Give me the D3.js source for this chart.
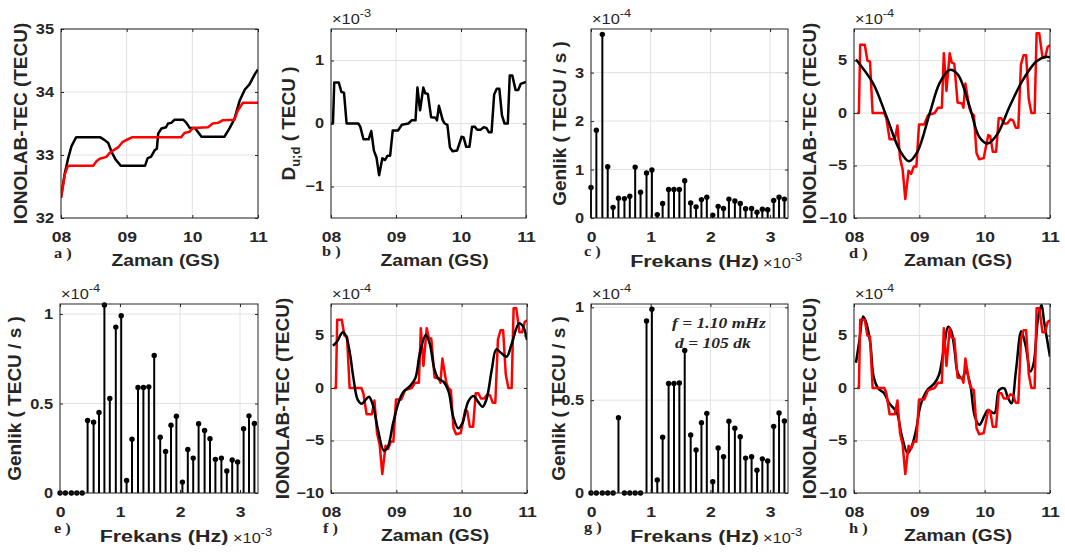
<!DOCTYPE html>
<html>
<head>
<meta charset="utf-8">
<script src="https://cdn.jsdelivr.net/npm/d3@7"></script>
<style>
  body { margin: 0; background: #fff; }
  text { font-family: "Liberation Sans", Arial, sans-serif; fill: #262626; }
</style>
</head>
<body>
<script>
// ---------- data ----------
// time axis: hours after 08:00 (GS)
const hourTicks = [0, 1, 2, 3]
const hourLabels = ['08', '09', '10', '11']
const freqTicks = [0, 1, 2, 3]

// a) IONOLAB-TEC, black and red curves (TECU)
const tBlackA = [0, 0.056, 0.107, 0.16, 0.23, 0.60, 0.66, 0.72, 0.77, 0.83, 0.91, 1.28, 1.32, 1.37, 1.43, 1.46, 1.48, 1.53, 1.60, 1.63, 1.68, 1.73, 1.86, 1.91, 1.96, 2.04, 2.14, 2.49, 2.57, 2.64, 2.72, 2.80, 2.87, 2.95, 3.0]
const vBlackA = [32.32, 32.7, 32.94, 33.14, 33.28, 33.28, 33.24, 33.19, 33.05, 32.93, 32.83, 32.83, 32.95, 32.97, 33.08, 33.1, 33.34, 33.42, 33.44, 33.5, 33.51, 33.56, 33.56, 33.51, 33.43, 33.43, 33.29, 33.29, 33.43, 33.57, 33.86, 34.04, 34.12, 34.28, 34.36]
const tRedA = [0, 0.06, 0.107, 0.49, 0.54, 0.59, 0.69, 0.74, 0.79, 0.87, 0.94, 1.02, 1.08, 1.83, 1.88, 1.96, 2.01, 2.24, 2.31, 2.39, 2.46, 2.64, 2.69, 2.77, 3.0]
const vRedA = [32.32, 32.7, 32.83, 32.83, 32.9, 32.94, 32.97, 33.03, 33.07, 33.12, 33.21, 33.25, 33.28, 33.28, 33.35, 33.37, 33.43, 33.44, 33.5, 33.51, 33.55, 33.56, 33.7, 33.83, 33.83]

// b) D u;d series (x 1e-4 TECU); same series redrawn in d, f, h one sample later
const tDiff = [0, 0.03, 0.05, 0.12, 0.16, 0.20, 0.24, 0.42, 0.45, 0.50, 0.58, 0.62, 0.66, 0.70, 0.74, 0.79, 0.83, 0.87, 0.91, 0.95, 1.03, 1.09, 1.19, 1.24, 1.30, 1.33, 1.37, 1.42, 1.45, 1.49, 1.54, 1.61, 1.63, 1.66, 1.72, 1.75, 1.79, 1.83, 1.87, 1.94, 2.01, 2.04, 2.08, 2.13, 2.17, 2.21, 2.25, 2.30, 2.35, 2.39, 2.43, 2.47, 2.51, 2.55, 2.59, 2.63, 2.67, 2.72, 2.75, 2.79, 2.84, 2.88, 2.92, 3.0]
const tDiffLate = [0.045, 0.075, 0.095, 0.165, 0.205, 0.245, 0.285, 0.465, 0.495, 0.545, 0.625, 0.665, 0.705, 0.745, 0.785, 0.835, 0.875, 0.915, 0.955, 0.995, 1.075, 1.135, 1.235, 1.285, 1.345, 1.375, 1.415, 1.465, 1.495, 1.535, 1.585, 1.655, 1.675, 1.705, 1.765, 1.795, 1.835, 1.875, 1.915, 1.985, 2.055, 2.085, 2.125, 2.175, 2.215, 2.255, 2.295, 2.345, 2.395, 2.435, 2.475, 2.515, 2.555, 2.595, 2.635, 2.675, 2.715, 2.765, 2.795, 2.835, 2.885, 2.925, 2.965, 3.045]
const vDiff = [0, 0, 6.5, 6.5, 5.0, 4.9, 0, 0, -0.5, -2.5, -2.5, -1.2, -4.3, -5.4, -8.2, -5.5, -5.8, -5.1, -5.1, -1.1, -1.1, -0.2, 0, 0.5, 0.5, 5.7, 2.1, 5.7, 4.8, 4.7, 1.0, 0.9, 0.5, 2.8, 0.5, 0, -0.2, -3.8, -4.4, -4.3, -2.1, -2.2, -3.7, -3.7, -0.5, -0.5, -1.0, -1.0, -0.6, -0.7, -1.4, -1.4, 4.6, 5.5, 5.5, 1.3, 0, 0, 7.6, 7.6, 5.3, 5.3, 6.3, 6.6]

// spectra: frequency (x 1e-3 Hz), amplitude (x 1e-4 TECU/s)
const freqs = [0, 0.09, 0.19, 0.28, 0.37, 0.46, 0.56, 0.65, 0.74, 0.83, 0.93, 1.02, 1.11, 1.20, 1.30, 1.39, 1.48, 1.57, 1.67, 1.76, 1.85, 1.94, 2.04, 2.13, 2.22, 2.31, 2.41, 2.50, 2.59, 2.69, 2.78, 2.87, 2.96, 3.06, 3.15, 3.24]
const ampC = [0.63, 1.81, 3.79, 1.06, 0.22, 0.41, 0.40, 0.45, 1.05, 0.53, 0.93, 0.99, 0.07, 0.30, 0.59, 0.59, 0.59, 0.77, 0.31, 0.23, 0.38, 0.43, 0.06, 0.24, 0.195, 0.39, 0.35, 0.30, 0.19, 0.195, 0.12, 0.18, 0.17, 0.36, 0.43, 0.39]
const ampE = [0, 0, 0, 0, 0, 0.405, 0.396, 0.45, 1.05, 0.528, 0.927, 0.99, 0.07, 0.30, 0.59, 0.59, 0.593, 0.768, 0.312, 0.232, 0.379, 0.429, 0.061, 0.243, 0.195, 0.387, 0.349, 0.303, 0.188, 0.195, 0.123, 0.184, 0.173, 0.359, 0.431, 0.388]
const ampG = [0, 0, 0, 0, 0, 0.405, 0, 0, 0, 0, 0.927, 0.99, 0.07, 0.30, 0.59, 0.59, 0.593, 0.768, 0.312, 0.232, 0.379, 0.429, 0.061, 0.243, 0.195, 0.387, 0.349, 0.303, 0.188, 0.195, 0.123, 0.184, 0.173, 0.359, 0.431, 0.388]

// d) fitted wave (x 1e-4)
const tWaveD = [0.03, 0.29, 0.49, 0.70, 0.84, 0.97, 1.16, 1.31, 1.46, 1.59, 1.77, 1.92, 2.05, 2.20, 2.38, 2.59, 2.79, 2.94, 3.0]
const vWaveD = [5.1, 2.85, -0.2, -3.55, -4.6, -3.7, 0, 2.85, 4.1, 3.65, 0.6, -2.3, -2.9, -1.95, 0.6, 3.2, 4.9, 5.35, 5.3]
// f) reconstruction
const tWaveF = [0.03, 0.09, 0.18, 0.23, 0.29, 0.34, 0.41, 0.47, 0.52, 0.58, 0.64, 0.72, 0.81, 0.87, 0.95, 1.03, 1.10, 1.21, 1.29, 1.36, 1.45, 1.51, 1.58, 1.64, 1.72, 1.80, 1.87, 1.95, 2.01, 2.10, 2.18, 2.25, 2.32, 2.38, 2.46, 2.53, 2.61, 2.69, 2.76, 2.88, 2.94, 3.0]
const vWaveF = [4.03, 4.4, 5.3, 4.95, 3.3, 1.08, -1.14, -1.5, -1.2, -0.83, -1.6, -4.0, -5.97, -5.6, -3.37, -1.46, -0.44, 0.2, 0.92, 3.3, 5.05, 4.25, 1.87, 0.92, 0.6, -0.35, -2.73, -3.84, -3.37, -1.3, -0.76, -1.3, -1.78, -1.08, 1.71, 3.68, 3.3, 2.98, 4.1, 6.16, 5.84, 4.57]
// h) reconstruction
const tWaveH = [0.03, 0.08, 0.14, 0.19, 0.25, 0.30, 0.37, 0.46, 0.54, 0.61, 0.66, 0.73, 0.82, 0.88, 0.95, 1.02, 1.12, 1.23, 1.30, 1.38, 1.44, 1.49, 1.54, 1.59, 1.66, 1.71, 1.78, 1.85, 1.92, 1.99, 2.05, 2.15, 2.22, 2.30, 2.35, 2.41, 2.48, 2.56, 2.63, 2.70, 2.75, 2.82, 2.87, 2.91, 3.0]
const vWaveH = [2.4, 4.4, 6.8, 6.16, 4.25, 1.08, -0.03, -0.5, -1.46, -1.94, -2.4, -4.5, -6.2, -5.6, -4.0, -1.6, -0.2, 0.44, 1.24, 3.94, 5.84, 5.4, 3.6, 1.4, 0.92, 1.7, 0.29, -2.73, -3.5, -2.73, -2.1, -2.4, -0.2, -0.03, -0.83, -1.46, 1.71, 5.4, 3.94, 1.56, 2.35, 6.8, 7.9, 6.3, 2.98]

// ---------- drawing ----------
const INK = '#262626'
const SX = 1.17 // the source figure is stretched sideways
const svg = d3.select('body').append('svg').attr('width', 1065).attr('height', 554)

function txt(sel, x, y, str, size, opts = {}) {
  return sel.append('text')
    .attr('transform', `translate(${x},${y}) scale(${opts.sx || SX},1)`)
    .attr('text-anchor', opts.anchor || 'start')
    .style('font-size', size + 'px')
    .style('font-weight', opts.weight || 'bold')
    .style('font-family', opts.family || null)
    .style('font-style', opts.style || null)
    .text(str)
}

function expo(sel, x, y, power) {
  const t = txt(sel, x, y, '×10', 14, { weight: 'normal' })
  t.append('tspan').attr('dy', -7).style('font-size', '11px').text(power)
}

function drawLine(plot, x, y, ts, vs, color, scale = 1) {
  plot.append('path')
    .datum(d3.zip(ts, vs))
    .attr('fill', 'none')
    .attr('stroke', color)
    .attr('stroke-width', 2.5)
    .attr('stroke-linejoin', 'round')
    .attr('d', d3.line().x(d => x(d[0])).y(d => y(d[1] * scale)))
}

function drawSmooth(plot, x, y, ts, vs) {
  plot.append('path')
    .datum(d3.zip(ts, vs))
    .attr('fill', 'none')
    .attr('stroke', '#000')
    .attr('stroke-width', 2.5)
    .attr('d', d3.line().curve(d3.curveCatmullRom).x(d => x(d[0])).y(d => y(d[1])))
}

function drawStems(g, x, y, amps) {
  const pts = d3.zip(freqs, amps)
  g.append('g').selectAll('line').data(pts).join('line')
    .attr('x1', d => x(d[0])).attr('x2', d => x(d[0]))
    .attr('y1', y(0)).attr('y2', d => y(d[1]))
    .attr('stroke', '#000').attr('stroke-width', 2)
  g.append('g').selectAll('circle').data(pts).join('circle')
    .attr('cx', d => x(d[0])).attr('cy', d => y(d[1]))
    .attr('r', 2.7).attr('fill', '#000')
}

function panel(p) {
  const top = p.row === 0 ? 29 : 304
  const bottom = p.row === 0 ? 218 : 493
  const isTime = p.kind === 'time'
  const xTicks = isTime ? hourTicks : freqTicks
  const x = d3.scaleLinear().domain(isTime ? [0, 3] : [0, 3.3]).range([p.left, p.right])
  const y = d3.scaleLinear().domain(p.yDomain).range([bottom, top])
  const g = svg.append('g')

  // grid
  g.append('g').selectAll('line').data(xTicks).join('line')
    .attr('x1', d => x(d)).attr('x2', d => x(d)).attr('y1', top).attr('y2', bottom)
    .attr('stroke', '#e2e2e2')
  g.append('g').selectAll('line').data(p.yTicks).join('line')
    .attr('y1', d => y(d)).attr('y2', d => y(d)).attr('x1', p.left).attr('x2', p.right)
    .attr('stroke', '#e2e2e2')

  g.append('clipPath').attr('id', 'clip-' + p.id).append('rect')
    .attr('x', p.left).attr('y', top).attr('width', p.right - p.left).attr('height', bottom - top)
  const plot = g.append('g').attr('clip-path', `url(#clip-${p.id})`)
  p.draw(plot, x, y, g)

  // axes, ticks pointing inward on all four sides
  const fmtX = isTime ? (d, i) => hourLabels[i] : d3.format('d')
  const axes = [
    [d3.axisBottom(x).tickValues(xTicks).tickFormat(fmtX).tickPadding(13), `translate(0,${bottom})`, 15],
    [d3.axisTop(x).tickValues(xTicks).tickFormat(''), `translate(0,${top})`, 0],
    [d3.axisLeft(y).tickValues(p.yTicks).tickFormat(p.yFormat || d3.format('d')).tickPadding(6), `translate(${p.left},0)`, 14],
    [d3.axisRight(y).tickValues(p.yTicks).tickFormat(''), `translate(${p.right},0)`, 0]
  ]
  axes.forEach(([ax, tr, fs]) => {
    const a = g.append('g').attr('transform', tr)
      .call(ax.tickSizeInner(-3).tickSizeOuter(0))
    a.select('.domain').remove()
    a.selectAll('line').attr('stroke', INK)
    a.selectAll('text')
      .attr('fill', INK)
      .attr('transform', `scale(${SX},1)`)
      .style('font-size', fs + 'px')
      .style('font-weight', 'bold')
      .style('font-family', '"Liberation Sans", Arial, sans-serif')
  })
  g.append('rect')
    .attr('x', p.left).attr('y', top)
    .attr('width', p.right - p.left).attr('height', bottom - top)
    .attr('fill', 'none').attr('stroke', INK)

  // x title
  const cx = (p.left + p.right) / 2
  if (isTime) {
    txt(g, cx + 6, bottom + 48, 'Zaman (GS)', 16.5, { anchor: 'middle' })
  } else {
    txt(g, cx + 5, bottom + 49, 'Frekans (Hz)', 16.5, { anchor: 'middle', sx: 1.3 })
    expo(g, p.right - 25, bottom + 50, '-3')
  }
  if (p.expTop) expo(g, p.left + 1, top - 5, p.expTop)

  // y title
  const yl = g.append('text')
    .attr('transform', `translate(${p.left + p.yLabelDx},${(top + bottom) / 2}) rotate(-90)`)
    .attr('text-anchor', 'middle')
    .attr('dy', '0.36em')
    .style('font-size', '19px')
    .style('font-weight', 'bold')
  if (p.yLabel === 'D') {
    yl.append('tspan').text('D')
    yl.append('tspan').attr('dy', 5).style('font-size', '13px').text('u;d')
    yl.append('tspan').attr('dy', -5).text(' ( TECU )')
  } else {
    yl.text(p.yLabel)
  }

  // panel tag, set just under the first x tick label
  txt(g, p.tag[1], bottom + p.tag[2], p.tag[0], 14,
    { family: '"Liberation Serif", "Times New Roman", serif' })
}

const tecLabel = 'IONOLAB-TEC (TECU)'
const ampLabel = 'Genlik ( TECU / s )'
const waveTicks = [-10, -5, 0, 5]

panel({
  id: 'a', row: 0, kind: 'time', left: 61, right: 258,
  yDomain: [32, 35], yTicks: [32, 33, 34, 35], yLabel: tecLabel, yLabelDx: -41,
  tag: ['a )', 54, 40],
  draw: (plot, x, y) => {
    drawLine(plot, x, y, tBlackA, vBlackA, '#000')
    drawLine(plot, x, y, tRedA, vRedA, '#ff0000')
  }
})

panel({
  id: 'b', row: 0, kind: 'time', left: 331, right: 526,
  yDomain: [-1.5, 1.5], yTicks: [-1, 0, 1], yLabel: 'D', yLabelDx: -43, expTop: '-3',
  tag: ['b )', 322, 38],
  draw: (plot, x, y) => drawLine(plot, x, y, tDiff, vDiff, '#000', 0.1)
})

panel({
  id: 'c', row: 0, kind: 'freq', left: 591, right: 788,
  yDomain: [0, 3.9], yTicks: [0, 1, 2, 3], yLabel: ampLabel, yLabelDx: -32, expTop: '-4',
  tag: ['c )', 584, 38],
  draw: (plot, x, y, g) => drawStems(g, x, y, ampC)
})

panel({
  id: 'd', row: 0, kind: 'time', left: 854, right: 1050,
  yDomain: [-10, 8], yTicks: waveTicks, yLabel: tecLabel, yLabelDx: -45, expTop: '-4',
  tag: ['d )', 849, 40],
  draw: (plot, x, y) => {
    drawLine(plot, x, y, tDiffLate, vDiff, '#ff0000')
    drawSmooth(plot, x, y, tWaveD, vWaveD)
  }
})

panel({
  id: 'e', row: 1, kind: 'freq', left: 60, right: 258,
  yDomain: [0, 1.056], yTicks: [0, 0.5, 1], yFormat: d3.format('~g'), yLabel: ampLabel, yLabelDx: -46, expTop: '-4',
  tag: ['e )', 54, 40],
  draw: (plot, x, y, g) => drawStems(g, x, y, ampE)
})

panel({
  id: 'f', row: 1, kind: 'time', left: 331, right: 527,
  yDomain: [-10, 8], yTicks: waveTicks, yLabel: tecLabel, yLabelDx: -49, expTop: '-4',
  tag: ['f )', 323, 40],
  draw: (plot, x, y) => {
    drawLine(plot, x, y, tDiffLate, vDiff, '#ff0000')
    drawSmooth(plot, x, y, tWaveF, vWaveF)
  }
})

panel({
  id: 'g', row: 1, kind: 'freq', left: 591, right: 788,
  yDomain: [0, 1.018], yTicks: [0, 0.5, 1], yFormat: d3.format('~g'), yLabel: ampLabel, yLabelDx: -33, expTop: '-4',
  tag: ['g )', 584, 39],
  draw: (plot, x, y, g) => {
    drawStems(g, x, y, ampG)
    const serif = '"Liberation Serif", "Times New Roman", serif'
    txt(g, 672, 328, 'f = 1.10 mHz', 15, { family: serif, style: 'italic' })
    txt(g, 675, 348, 'd = 105 dk', 15, { family: serif, style: 'italic' })
  }
})

panel({
  id: 'h', row: 1, kind: 'time', left: 854, right: 1050,
  yDomain: [-10, 8], yTicks: waveTicks, yLabel: tecLabel, yLabelDx: -45, expTop: '-4',
  tag: ['h )', 849, 40],
  draw: (plot, x, y) => {
    drawSmooth(plot, x, y, tWaveH, vWaveH)
    drawLine(plot, x, y, tDiffLate, vDiff, '#ff0000')
  }
})
</script>
</body>
</html>
